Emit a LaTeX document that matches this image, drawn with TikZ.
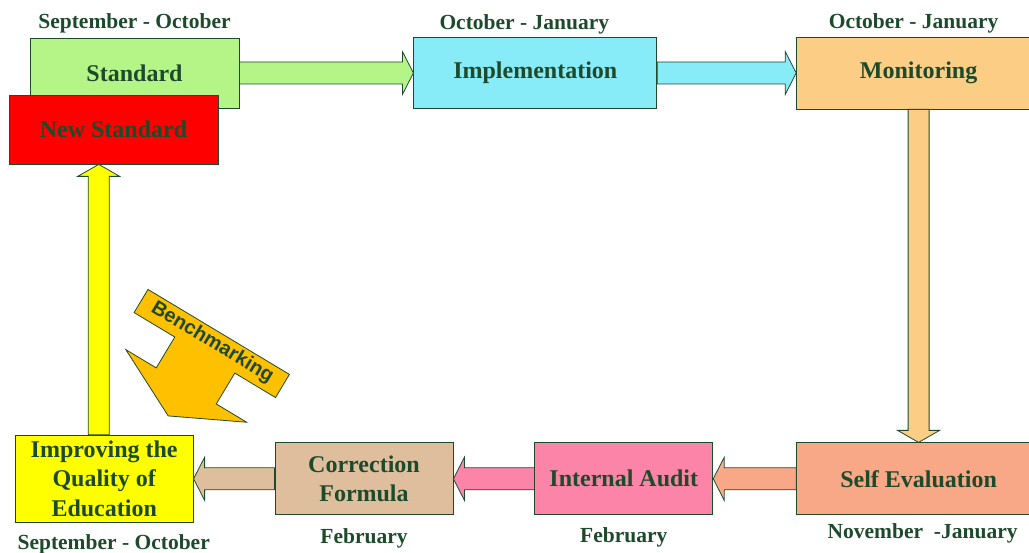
\documentclass[tikz,border=0pt]{standalone}
\usepackage{fontspec}
\setmainfont{Liberation Serif}
\newfontfamily\benchfont{Liberation Sans}
\usepackage{xcolor}
\usepackage{tikz}
\usetikzlibrary{positioning, calc}
\definecolor{dkgreen}{HTML}{1E4A2C}
\definecolor{stdgreen}{HTML}{B5F587}
\definecolor{newred}{HTML}{FF0000}
\definecolor{implcyan}{HTML}{87EBF8}
\definecolor{monorange}{HTML}{FBCD85}
\definecolor{selfsalmon}{HTML}{F8A886}
\definecolor{auditpink}{HTML}{FB84A8}
\definecolor{corrtan}{HTML}{DEBE9C}
\definecolor{impyellow}{HTML}{FFFF00}
\definecolor{benchgold}{HTML}{FFC000}
\newcommand{\boxfont}{\fontsize{24}{29.5}\selectfont\bfseries}
\newcommand{\datefont}{\fontsize{21.5}{24}\selectfont\bfseries}
\newcommand{\hblock}[3]{%
  \draw[blockarrow, fill=#3] let \p1=(#1), \p2=(#2), \n1={sign(\x2-\x1)} in
    (\x1,{\y1+11pt}) -- ({\x2-(\n1)*11pt},{\y1+11pt}) -- ({\x2-(\n1)*11pt},{\y1+21.5pt}) -- (\x2,\y1)
    -- ({\x2-(\n1)*11pt},{\y1-21.5pt}) -- ({\x2-(\n1)*11pt},{\y1-11pt}) -- (\x1,{\y1-11pt}) -- cycle;}
\newcommand{\vblock}[3]{%
  \draw[blockarrow, fill=#3] let \p1=(#1), \p2=(#2), \n1={sign(\y2-\y1)} in
    ({\x1+10.5pt},\y1) -- ({\x1+10.5pt},{\y2-(\n1)*12pt}) -- ({\x1+21pt},{\y2-(\n1)*12pt}) -- (\x1,\y2)
    -- ({\x1-21pt},{\y2-(\n1)*12pt}) -- ({\x1-10.5pt},{\y2-(\n1)*12pt}) -- ({\x1-10.5pt},\y1) -- cycle;}
\begin{document}
\begin{tikzpicture}[x=1pt, y=1pt,
    box/.style={rectangle, draw=dkgreen, line width=0.8pt, inner sep=2pt, align=center, font=\boxfont, text=dkgreen},
    datelbl/.style={inner sep=0pt, font=\datefont, text=dkgreen},
    blockarrow/.style={draw=dkgreen, line width=0.8pt, line join=miter}]
    \useasboundingbox (0,0) rectangle (1029,553);
    \node (std) [box, fill=stdgreen, minimum width=209pt, minimum height=70pt] at (134.5,480) {Standard};
    \node (newstd) [box, fill=newred, minimum width=209pt, minimum height=69pt] at (113.5,423.5) {New Standard};
    \node (impl) [box, fill=implcyan, minimum width=243pt, minimum height=71pt, right=174pt of std] {Implementation};
    \node (mon) [box, fill=monorange, minimum width=244pt, minimum height=72pt, right=139pt of impl] {Monitoring};
    \node (self) [box, fill=selfsalmon, minimum width=244pt, minimum height=72pt, below=333pt of mon] {Self Evaluation};
    \node (audit) [box, fill=auditpink, minimum width=178pt, minimum height=72pt, left=83pt of self] {Internal Audit};
    \node (corr) [box, fill=corrtan, minimum width=178pt, minimum height=72pt, left=81pt of audit] {Correction\\Formula};
    \node (imp) [box, fill=impyellow, minimum width=178pt, minimum height=87pt, left=81pt of corr] {Improving the\\Quality of\\Education};

    \node (stdT) [datelbl, above=4pt of std] {September - October};
    \node (implT) [datelbl, above=3pt of impl, xshift=-11pt] {October - January};
    \node (monT) [datelbl, above=3pt of mon, xshift=-5pt] {October - January};
    \node (selfB) [datelbl, below=8.5pt of self, xshift=4pt] {November\ \ -January};
    \node (auditB) [datelbl, below=12.5pt of audit] {February};
    \node (corrB) [datelbl, below=13.5pt of corr] {February};
    \node (impB) [datelbl, below=11.5pt of imp, xshift=9.5pt] {September - October};

    \hblock{std.east}{impl.west}{stdgreen}
    \hblock{impl.east}{mon.west}{implcyan}
    \vblock{mon.south}{self.north}{monorange}
    \hblock{self.west}{audit.east}{selfsalmon}
    \hblock{audit.west}{corr.east}{auditpink}
    \hblock{corr.west}{imp.east}{corrtan}
    \vblock{[xshift=-5.5pt]imp.north}{newstd.south}{impyellow}

    \begin{scope}[shift={(211.75,209.5)}, rotate=-31]
        \draw [blockarrow, fill=benchgold] (-82.5,13.5) -- (82.5,13.5) -- (82.5,-13.5) -- (35,-13.5) -- (35,-49.5) -- (70.5,-49.5)
            -- (0,-84.5) -- (-70.5,-49.5) -- (-35,-49.5) -- (-35,-13.5) -- (-82.5,-13.5) -- cycle;
        \node (bench) [transform shape, text=dkgreen, inner sep=0pt, font=\benchfont\fontsize{20}{22}\selectfont\bfseries] at (0,1) {Benchmarking};
    \end{scope}
\end{tikzpicture}
\end{document}
